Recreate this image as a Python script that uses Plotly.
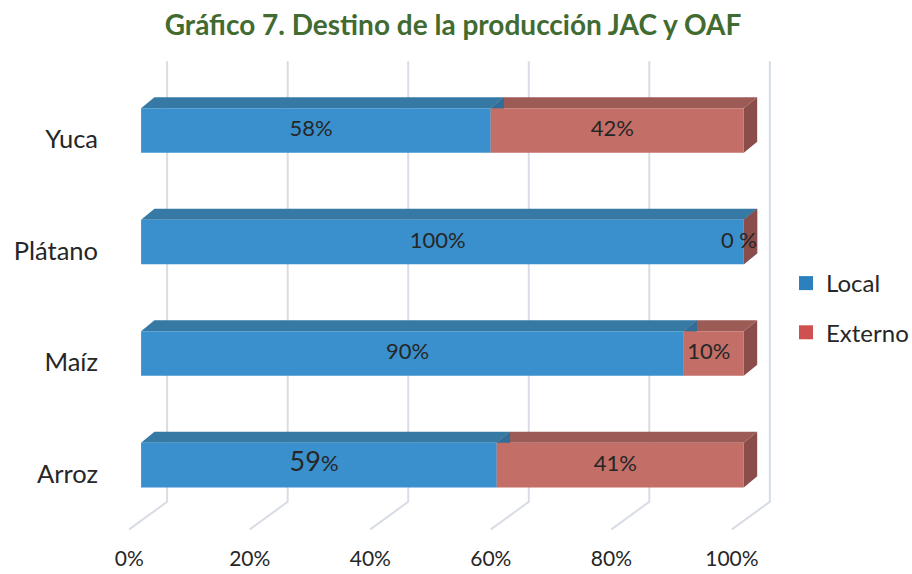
import plotly.graph_objects as go

# ---------------- data ----------------
categories = ["Arroz", "Maíz", "Plátano", "Yuca"]
local_vals = [59, 90, 100, 58]
externo_vals = [41, 10, 0, 42]
series_names = ["Local", "Externo"]
x_ticks = [0, 20, 40, 60, 80, 100]
x_tick_labels = ["0%", "20%", "40%", "60%", "80%", "100%"]

# ---------------- style ----------------
FONT = "Lato"
front_cols = ["#3a90cd", "#c36e67"]
top_cols = ["#3679a5", "#9d5b56"]
side_cols = ["#2f6e99", "#8a4d4a"]
legend_cols = ["#2b80be", "#cf514f"]
grid_col = "#d8dce4"
HALF = 0.2          # half bar thickness (category units)
DX, DY = 2.22, 0.099  # bar depth offset (x %, y units)
WALL_DX = 4.32        # back wall offset from bar front (x %)
FLOOR_DX = -1.97      # floor front offset (x %)
Y_TOP, Y_FLOOR_BACK, Y_FLOOR_FRONT = 3.62, -0.329, -0.577

W, H = 912, 574

fig = go.Figure()

# gridlines (back wall + floor)
for t in x_ticks:
    fig.add_trace(go.Scatter(
        x=[t + WALL_DX, t + WALL_DX, t + FLOOR_DX],
        y=[Y_TOP, Y_FLOOR_BACK, Y_FLOOR_FRONT],
        mode="lines", line=dict(color=grid_col, width=2),
        hoverinfo="skip", showlegend=False))

series = [local_vals, externo_vals]
for ci, cat in enumerate(categories):
    c = ci
    base = 0
    segs = []
    for si, vals in enumerate(series):
        a, b = base, base + vals[ci]
        segs.append((si, a, b))
        base = b
    # top faces
    for si, a, b in segs:
        fig.add_trace(go.Scatter(
            x=[a, b, b + DX, a + DX, a],
            y=[c + HALF, c + HALF, c + HALF + DY, c + HALF + DY, c + HALF],
            mode="lines", fill="toself", fillcolor=top_cols[si],
            line=dict(width=0), hoverinfo="skip", showlegend=False))
    # right faces
    for si, a, b in segs:
        fig.add_trace(go.Scatter(
            x=[b, b, b + DX, b + DX, b],
            y=[c - HALF, c + HALF, c + HALF + DY, c - HALF + DY, c - HALF],
            mode="lines", fill="toself", fillcolor=side_cols[si],
            line=dict(width=0), hoverinfo="skip", showlegend=False))
    # front faces
    for si, a, b in segs:
        if b > a:
            fig.add_trace(go.Scatter(
                x=[a, b, b, a, a],
                y=[c - HALF, c - HALF, c + HALF, c + HALF, c - HALF],
                mode="lines", fill="toself", fillcolor=front_cols[si],
                line=dict(width=0), hoverinfo="skip", showlegend=False))

# value labels
lab_x, lab_y, lab_t = [], [], []
for ci, cat in enumerate(categories):
    base = 0
    for si, vals in enumerate(series):
        v = vals[ci]
        lab_x.append(base + v / 2 - 0.8)
        lab_y.append(ci)
        if v == 0:
            lab_t.append(f"{v} %")
        elif cat == "Arroz" and si == 0:
            lab_t.append(f"<span style='font-size:27px'>{v}</span>%")
        else:
            lab_t.append(f"{v}%")
        base += v
fig.add_trace(go.Scatter(
    x=lab_x, y=lab_y, text=lab_t, mode="text",
    textfont=dict(family=FONT, size=22, color="#262626"),
    hoverinfo="skip", showlegend=False))

# legend entries
for si, name in enumerate(series_names):
    fig.add_trace(go.Scatter(
        x=[None], y=[None], mode="markers", name=name, legendgroup=name,
        marker=dict(symbol="square", size=14, color=legend_cols[si])))

fig.update_layout(
    width=W, height=H,
    margin=dict(l=123, r=120, t=58, b=42),
    paper_bgcolor="white", plot_bgcolor="white",
    font=dict(family=FONT, size=22, color="#262626"),
    title=dict(text="<b>Gráfico 7. Destino de la producción JAC y OAF</b>",
               font=dict(family=FONT, size=28, color="#416b31"),
               x=453 / W, xref="container", xanchor="center",
               y=1 - 25 / H, yref="container", yanchor="middle"),
    xaxis=dict(range=[-3, 107], showgrid=False, zeroline=False, automargin=False,
               tickvals=[t + FLOOR_DX for t in x_ticks], ticktext=x_tick_labels,
               tickfont=dict(size=21), ticks="", ticklabelstandoff=12,
               showline=False, fixedrange=True),
    yaxis=dict(range=[-0.60, 3.65], showgrid=False, zeroline=False, automargin=False,
               tickvals=[i - 0.08 for i in range(len(categories))],
               ticktext=categories, tickfont=dict(size=25.5), ticks="",
               ticklabelstandoff=24, showline=False, fixedrange=True),
    legend=dict(x=786 / W, xref="container", xanchor="left",
                y=1 - 308 / H, yref="container", yanchor="middle",
                font=dict(size=24), tracegroupgap=15, traceorder="grouped",
                itemwidth=30, bgcolor="rgba(0,0,0,0)"),
)

fig.write_html("out.html", config={"displayModeBar": False},
               post_script="document.body.style.margin='0px';")
